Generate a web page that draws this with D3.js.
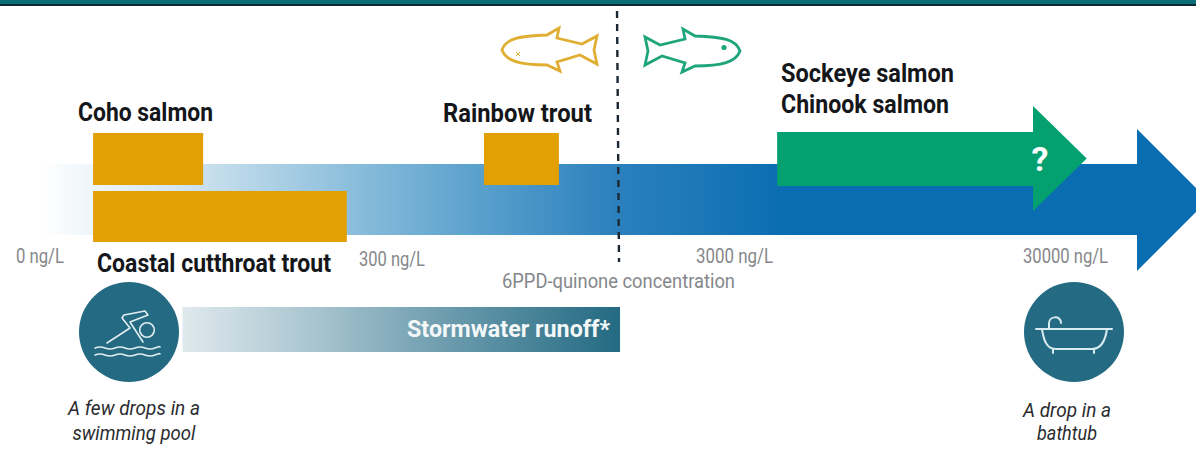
<!DOCTYPE html>
<html><head><meta charset="utf-8">
<script src="https://cdnjs.cloudflare.com/ajax/libs/d3/7.8.5/d3.min.js"></script>
<style>html,body{margin:0;padding:0;background:#fff;overflow:hidden}svg{display:block}
text{font-family:"Roboto",sans-serif}</style>
</head><body><svg id="c" width="1196" height="462"></svg>
<script>
// Concentrations in ng/L
const tickValues = [300, 3000, 30000];
const tickLabels = ["300 ng/L", "3000 ng/L", "30000 ng/L"];
const zeroLabel = "0 ng/L";
const axisTitle = "6PPD-quinone concentration";
const speciesNames = ["Coho salmon", "Coastal cutthroat trout", "Rainbow trout"];
const speciesLow = [40.6, 40.6, 560];
const speciesHigh = [85, 223, 926];
const greenNames = ["Sockeye salmon", "Chinook salmon"];
const greenLow = 4050;
const greenHigh = 34900;
const dividerValue = 1368;
const runoffLow = 74, runoffHigh = 1396;
const runoffLabel = "Stormwater runoff*";
const captionsLeft = ["A few drops in a", "swimming pool"];
const captionsRight = ["A drop in a", "bathtub"];

const svg = d3.select("#c");
const x = d3.scaleLog().domain(tickValues).range([391, 734, 1065]);
const ORANGE = "#e3a004", GREEN = "#05a06f", BLUE = "#0a6db1", TEAL = "#236a82";

const defs = svg.append("defs");
function grad(id, x1, x2, stops) {
  const g = defs.append("linearGradient").attr("id", id).attr("gradientUnits", "userSpaceOnUse")
    .attr("x1", x1).attr("x2", x2).attr("y1", 0).attr("y2", 0);
  stops.forEach(s => g.append("stop").attr("offset", s[0]).attr("stop-color", s[1]));
}
grad("main", 40, 790, [[0, "#ffffff"], [0.2, "#cfe3ef"], [0.41, "#8dbfdc"], [0.58, "#5ba1cd"], [0.77, "#2b80bd"], [1, BLUE]]);
grad("run", x(runoffLow), x(runoffHigh), [[0, "#dfe9ed"], [0.3, "#a9c5d0"], [0.6, "#6d9cae"], [1, "#236a82"]]);

// top rule
svg.append("rect").attr("width", 1196).attr("height", 4).attr("fill", "#0c6e78");
svg.append("rect").attr("y", 4).attr("width", 1196).attr("height", 2).attr("fill", "#0b2a33");

// main arrow
svg.append("rect").attr("x", 40).attr("y", 164).attr("width", 1100).attr("height", 71).attr("fill", "url(#main)");
svg.append("path").attr("d", "M1137,129L1208,200L1137,271Z").attr("fill", BLUE);

// orange ranges
const rows = [[133, 52], [191, 51], [133, 52]];
svg.selectAll("rect.sp").data(speciesNames).join("rect").attr("class", "sp")
  .attr("x", (d, i) => x(speciesLow[i]))
  .attr("width", (d, i) => x(speciesHigh[i]) - x(speciesLow[i]))
  .attr("y", (d, i) => rows[i][0]).attr("height", (d, i) => rows[i][1])
  .attr("fill", ORANGE);

// green arrow
const gx0 = x(greenLow), gx1 = x(greenHigh);
svg.append("path").attr("fill", GREEN)
  .attr("d", `M${gx0},132H1033V106L${gx1},158.5L1033,211V186H${gx0}Z`);
svg.append("text").attr("x", 1040).attr("y", 171).attr("text-anchor", "middle")
  .attr("font-size", 34).attr("font-weight", 700).attr("fill", "#fff").text("?");

// divider
svg.append("line").attr("x1", x(dividerValue)).attr("x2", x(dividerValue) + 2).attr("y1", 11).attr("y2", 262)
  .attr("stroke", "#1b2733").attr("stroke-width", 2.4).attr("stroke-dasharray", "7,6");

// text helper
function label(t, xx, y, w, size, fill, weight, style) {
  const e = svg.append("text").attr("x", xx).attr("y", y).attr("font-size", size)
    .attr("fill", fill).attr("font-weight", weight || 400).attr("font-style", style || "normal").text(t);
  if (w) e.attr("textLength", w).attr("lengthAdjust", "spacingAndGlyphs");
  return e;
}
const INK = "#14161a", GREY = "#85878a";
label(speciesNames[0], 78, 121, 135, 25, INK, 700);
label(speciesNames[1], 97, 272, 234, 25, INK, 700);
label(speciesNames[2], 443, 122, 149, 25, INK, 700);
label(greenNames[0], 781, 82, 173, 25, INK, 700);
label(greenNames[1], 781, 113, 168, 25, INK, 700);

label(zeroLabel, 16, 263, 48, 20, GREY);
label(tickLabels[0], 359, 266, 66, 20, GREY);
label(tickLabels[1], 696, 263, 77, 20, GREY);
label(tickLabels[2], 1023, 263, 85, 20, GREY);
label(axisTitle, 502, 288, 233, 21, GREY);

// runoff bar
svg.append("rect").attr("x", x(runoffLow)).attr("width", x(runoffHigh) - x(runoffLow))
  .attr("y", 307).attr("height", 45).attr("fill", "url(#run)");
label(runoffLabel, 407, 337, 203, 24, "#f3f7f8", 700);

// circles
svg.append("circle").attr("cx", 129).attr("cy", 332).attr("r", 50).attr("fill", TEAL);
svg.append("circle").attr("cx", 1074).attr("cy", 332).attr("r", 50).attr("fill", TEAL);

// swimmer icon
const ic = svg.append("g").attr("fill", "none").attr("stroke", "#e0eef1").attr("stroke-width", 1.6)
  .attr("stroke-linecap", "round").attr("stroke-linejoin", "round");
ic.append("circle").attr("cx", 147).attr("cy", 330).attr("r", 7.3);
ic.append("path").attr("d", "M107,343L130,328L122,318L124,315L145,311L148,315L130,322L143,342");
ic.append("path").attr("d", "M95,348q5,-2 10,0t10,0t10,0t10,0t10,0t10,0t5,-1");
ic.append("path").attr("d", "M95,355q5,-2 10,0t10,0t10,0t10,0t10,0t10,0t5,-1");

// bathtub icon
const ib = svg.append("g").attr("fill", "none").attr("stroke", "#d9ecef").attr("stroke-width", 2)
  .attr("stroke-linecap", "round").attr("stroke-linejoin", "round");
ib.append("path").attr("d", "M1036,329H1112");
ib.append("path").attr("d", "M1042,329C1044,343 1048,349 1056,349H1092C1100,349 1105,343 1107,329");
ib.append("path").attr("d", "M1053,349V353M1094,349V353");
ib.append("path").attr("d", "M1049,329V323C1049,316 1061,315 1061,323");

// captions
function caption(lines, cx, ys, ws) {
  lines.forEach((t, i) => label(t, cx, ys[i], ws[i], 20, "#2a2c30", 400, "italic").attr("text-anchor", "middle"));
}
caption(captionsLeft, 134, [415, 440], [132, 123]);
caption(captionsRight, 1067, [417, 440], [88, 60]);

// fish
const fish = "M0,22C4,10 18,8 45,7L57,0L55,10L80,16L95,8L92,22L95,36L78,27L55,34L58,43L45,37C18,37 4,33 0,22Z";
svg.append("path").attr("d", fish).attr("transform", "translate(502,28)")
  .attr("fill", "#fff").attr("stroke", "#dfae33").attr("stroke-width", 2.8).attr("stroke-linejoin", "miter");
svg.append("path").attr("d", "M516,52l4,4m0,-4l-4,4").attr("stroke", "#dfae33").attr("stroke-width", 1);
svg.append("path").attr("d", fish).attr("transform", "translate(740,29) scale(-1,1)")
  .attr("fill", "#fff").attr("stroke", "#1ea57c").attr("stroke-width", 2.8).attr("stroke-linejoin", "miter");
svg.append("circle").attr("cx", 724).attr("cy", 47.5).attr("r", 2.6).attr("fill", "#1ea57c");
</script></body></html>
